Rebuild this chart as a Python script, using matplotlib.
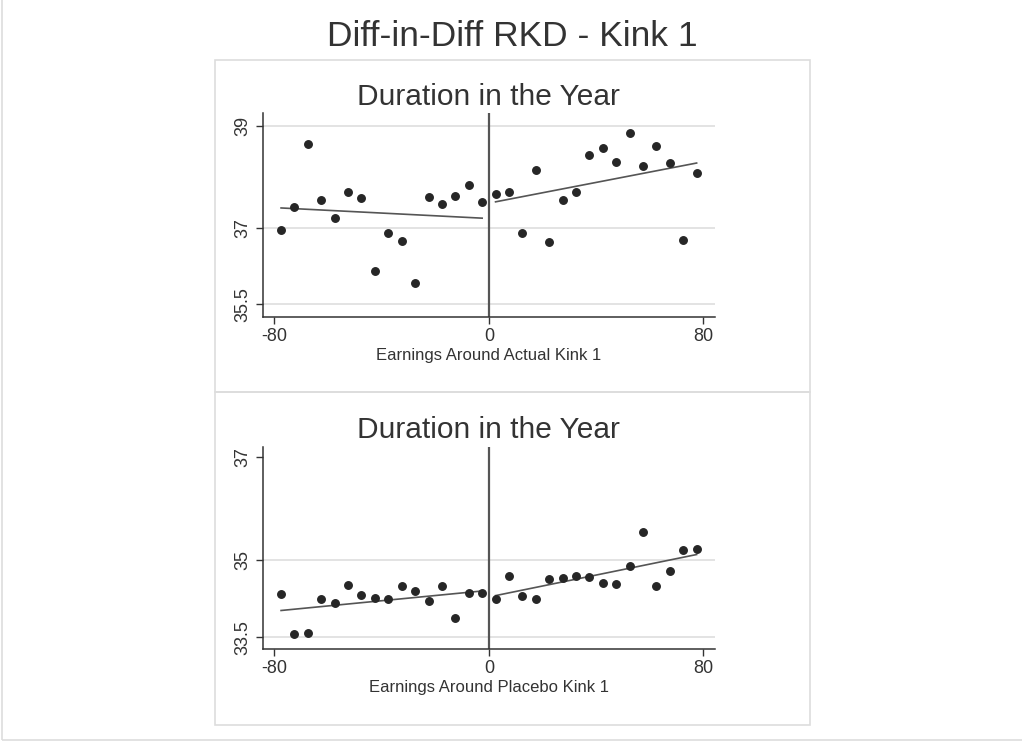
import matplotlib
matplotlib.use("Agg")
from matplotlib import pyplot as plt
from matplotlib.patches import Rectangle
import numpy as np

plt.rcParams["font.family"] = ["Liberation Sans", "DejaVu Sans"]

# bin centres (earnings around kink)
bins = [-77.5, -72.5, -67.5, -62.5, -57.5, -52.5, -47.5, -42.5, -37.5, -32.5,
        -27.5, -22.5, -17.5, -12.5, -7.5, -2.5, 2.5, 7.5, 12.5, 17.5, 22.5,
        27.5, 32.5, 37.5, 42.5, 47.5, 52.5, 57.5, 62.5, 67.5, 72.5, 77.5]

actual_dur = [36.96, 37.41, 38.65, 37.54, 37.19, 37.71, 37.58, 36.16, 36.90, 36.74,
              35.92, 37.61, 37.46, 37.63, 37.83, 37.51, 37.67, 37.70, 36.90, 38.14,
              36.73, 37.55, 37.71, 38.43, 38.56, 38.29, 38.85, 38.22, 38.61, 38.27,
              36.77, 38.07]

placebo_dur = [34.34, 33.57, 33.58, 34.25, 34.16, 34.51, 34.33, 34.27, 34.25, 34.49,
               34.40, 34.21, 34.49, 33.88, 34.37, 34.36, 34.24, 34.70, 34.31, 34.25,
               34.64, 34.66, 34.70, 34.68, 34.56, 34.53, 34.88, 35.54, 34.49, 34.79,
               35.19, 35.21]

# fitted lines: (x endpoints, y endpoints) left and right of kink
fit_x_left = [-77.5, -2.5]
fit_x_right = [2.5, 77.5]
actual_fit_left = [37.39, 37.19]
actual_fit_right = [37.51, 38.27]
placebo_fit_left = [34.02, 34.40]
placebo_fit_right = [34.31, 35.11]

x_ticks = [-80, 0, 80]

W, H = 1022, 741
fig = plt.figure(figsize=(W / 100, H / 100), dpi=100)

# outer frame (only left and bottom edges fall inside the image) and panel frames
fig.patches.append(Rectangle((1.5 / W, 1 - 740 / H), 1.1, 1.1, transform=fig.transFigure,
                             fill=False, edgecolor="#dddddd", lw=1.2))
for top, bot in [(60, 392), (392, 725)]:
    fig.patches.append(Rectangle((214.5 / W, 1 - bot / H), (809.5 - 214.5) / W, (bot - top) / H,
                                 transform=fig.transFigure, fill=False,
                                 edgecolor="#dddddd", lw=1.2))

fig.text(512 / W, 1 - 37 / H, "Diff-in-Diff RKD - Kink 1", ha="center", va="center",
         fontsize=25.5, color="#333333")

dark = "#333333"
line_col = "#555555"


def panel(rect, dur, fit_l, fit_r, ylim, yticks, grid_vals, xlabel):
    ax = fig.add_axes(rect)
    ax.set_xlim(-84.35, 84.35)
    ax.set_ylim(*ylim)
    for g in grid_vals:
        ax.axhline(g, color="#dedede", lw=1.2, zorder=0)
    ax.axvline(0, color=line_col, lw=1.6, zorder=1)
    ax.plot(fit_x_left, fit_l, color=line_col, lw=1.2, zorder=2)
    ax.plot(fit_x_right, fit_r, color=line_col, lw=1.2, zorder=2)
    ax.plot(bins, dur, "o", color="#262626", ms=5.4, zorder=3)
    ax.set_xticks(x_ticks)
    ax.set_xticklabels([str(t) for t in x_ticks])
    ax.set_yticks(yticks)
    ax.set_yticklabels([("%g" % t) for t in yticks], rotation=90, va="center")
    ax.tick_params(colors=dark, labelcolor=dark, labelsize=13, length=5, width=1, pad=3)
    for s in ["top", "right"]:
        ax.spines[s].set_visible(False)
    for s in ["left", "bottom"]:
        ax.spines[s].set_color(dark)
        ax.spines[s].set_linewidth(1.1)
    ax.set_xlabel(xlabel, fontsize=12, color=dark, labelpad=2)
    ax.set_title("Duration in the Year", fontsize=21.5, color=dark, pad=6)
    ax.patch.set_alpha(0)
    return ax


panel([262.7 / W, 1 - 316.7 / H, (715 - 262.7) / W, (316.7 - 113) / H],
      actual_dur, actual_fit_left, actual_fit_right, (35.26, 39.25),
      [35.5, 37, 39], [35.5, 37, 39], "Earnings Around Actual Kink 1")
panel([262.7 / W, 1 - 649 / H, (715 - 262.7) / W, (649 - 446.7) / H],
      placebo_dur, placebo_fit_left, placebo_fit_right, (33.27, 37.21),
      [33.5, 35, 37], [33.5, 35], "Earnings Around Placebo Kink 1")

fig.savefig("out.png", dpi=100)
